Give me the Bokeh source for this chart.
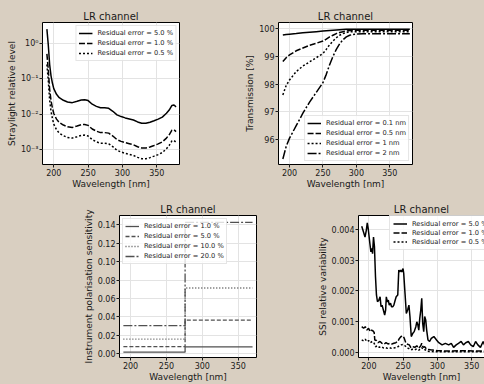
from bokeh.plotting import figure
from bokeh.layouts import column, row
from bokeh.models import (Spacer, Legend, LegendItem, FixedTicker, LinearAxis,
                          GlobalInlineStyleSheet)
from bokeh.embed import file_html
from bokeh.resources import INLINE

# ---------------- data ----------------
x_ticks = [200, 250, 300, 350]

# Top-left: straylight (log scale)
sl_wl = [190, 192, 194, 196, 198, 200, 204, 208, 214, 220, 227, 234, 240, 245, 250,
         256, 262, 268, 274, 280, 286, 292, 298, 304, 310, 316, 322, 328, 334, 340,
         346, 352, 358, 364, 368, 372, 375, 378]
sl_5 = [2.5, 0.9, 0.25, 0.12, 0.075, 0.052, 0.036, 0.029, 0.0245, 0.022, 0.021, 0.023,
        0.025, 0.0255, 0.024, 0.019, 0.0165, 0.015, 0.015, 0.0145, 0.012, 0.0095, 0.0085,
        0.0078, 0.0073, 0.0068, 0.006, 0.0055, 0.0055, 0.0059, 0.0065, 0.0072, 0.0082,
        0.0105, 0.013, 0.0175, 0.018, 0.016]
sl_1 = [0.5, 0.18, 0.05, 0.024, 0.015, 0.0104, 0.0072, 0.0058, 0.0049, 0.0044, 0.0042,
        0.0046, 0.005, 0.0051, 0.0048, 0.0038, 0.0033, 0.003, 0.003, 0.0029, 0.0024,
        0.0019, 0.0017, 0.00156, 0.00146, 0.00136, 0.0012, 0.0011, 0.0011, 0.00118,
        0.0013, 0.00144, 0.00164, 0.0021, 0.0026, 0.0035, 0.0036, 0.0032]
sl_05 = [0.25, 0.09, 0.025, 0.012, 0.0075, 0.0052, 0.0036, 0.0029, 0.00245, 0.0022,
         0.0021, 0.0023, 0.0025, 0.00255, 0.0024, 0.0019, 0.00165, 0.0015, 0.0015,
         0.00145, 0.0012, 0.00095, 0.00085, 0.00078, 0.00073, 0.00068, 0.0006, 0.00055,
         0.00055, 0.00059, 0.00065, 0.00072, 0.00082, 0.00105, 0.0013, 0.00175, 0.0018,
         0.0016]
sl_yticks = [1e-3, 1e-2, 1e-1, 1.0]
sl_ylabels = ["10⁻³", "10⁻²", "10⁻¹", "10⁰"]

# Top-right: transmission
tr_wl = [190, 195, 200, 210, 220, 230, 240, 250, 255, 260, 265, 270, 275, 280, 285,
         290, 295, 300, 310, 320, 340, 360, 380]
tr_01 = [99.77, 99.79, 99.80, 99.82, 99.85, 99.87, 99.89, 99.91, 99.92, 99.93, 99.94,
         99.95, 99.96, 99.97, 99.98, 99.98, 99.98, 99.98, 99.98, 99.98, 99.98, 99.98, 99.98]
tr_05 = [98.81, 98.95, 99.05, 99.20, 99.30, 99.40, 99.47, 99.55, 99.62, 99.70, 99.76,
         99.82, 99.86, 99.89, 99.91, 99.93, 99.94, 99.94, 99.94, 99.94, 99.94, 99.94, 99.94]
tr_1 = [97.61, 97.95, 98.15, 98.45, 98.65, 98.80, 98.95, 99.10, 99.25, 99.42, 99.55,
        99.67, 99.76, 99.82, 99.86, 99.88, 99.89, 99.89, 99.89, 99.89, 99.89, 99.89, 99.89]
tr_2 = [95.30, 95.75, 96.05, 96.50, 96.95, 97.35, 97.70, 98.05, 98.35, 98.70, 99.00,
        99.25, 99.45, 99.60, 99.70, 99.76, 99.79, 99.80, 99.81, 99.81, 99.81, 99.81, 99.81]
tr_yticks = [96, 97, 98, 99, 100]

# Bottom-left: polarisation sensitivity (step)
ps_wl = [190, 276, 370]
ps_1 = [0.0018, 0.0075, 0.0075]
ps_5 = [0.0078, 0.0366, 0.0366]
ps_10 = [0.0160, 0.0714, 0.0714]
ps_20 = [0.0305, 0.1425, 0.1425]
ps_yticks = [0.0, 0.02, 0.04, 0.06, 0.08, 0.10, 0.12, 0.14]
ps_ylabels = ["0.00", "0.02", "0.04", "0.06", "0.08", "0.10", "0.12", "0.14"]

# Bottom-right: SSI relative variability
ssi_wl_5 = [189.5, 192.0, 194.3, 196.2, 197.6, 199.0, 201.4, 202.9, 204.3, 205.3,
            206.7, 208.1, 209.6, 211.0, 212.5, 214.4, 216.3, 217.7, 219.2, 221.1,
            223.0, 224.4, 225.4, 226.8, 228.3, 229.7, 231.6, 233.0, 235.0, 236.4,
            238.3, 239.8, 242.1, 243.6, 245.0, 246.5, 247.9, 249.8, 250.8, 252.7,
            254.6, 256.5, 258.4, 259.9, 261.8, 264.2, 266.1, 268.5, 269.9, 271.4,
            272.8, 274.2, 275.7, 277.1, 278.5, 280.0, 281.4, 282.9, 284.3, 286.2,
            288.6, 291.0, 294.8, 298.7, 302.0, 306.8, 311.6, 316.4, 320.2, 323.6,
            327.4, 330.7, 334.6, 338.0, 341.3, 345.1, 348.5, 352.3, 355.7, 359.0,
            362.8, 366.7, 370.0, 374.0, 378.0]
ssi_5 = [0.00410, 0.00392, 0.00375, 0.00397, 0.00421, 0.00402, 0.00354, 0.00327, 0.00338, 0.00321,
         0.00375, 0.00343, 0.00246, 0.00187, 0.00165, 0.00170, 0.00181, 0.00149, 0.00154, 0.00138,
         0.00122, 0.00138, 0.00181, 0.00165, 0.00170, 0.00154, 0.00160, 0.00149, 0.00149, 0.00154,
         0.00170, 0.00181, 0.00187, 0.00268, 0.00262, 0.00268, 0.00262, 0.00273, 0.00257, 0.00192,
         0.00127, 0.00138, 0.00154, 0.00117, 0.00052, 0.00063, 0.00068, 0.00084, 0.00100, 0.00090,
         0.00073, 0.00111, 0.00138, 0.00176, 0.00095, 0.00068, 0.00117, 0.00106, 0.00073, 0.00041,
         0.00036, 0.00046, 0.00052, 0.00041, 0.00032, 0.00025, 0.00030, 0.00025, 0.00030, 0.00017,
         0.00025, 0.00030, 0.00036, 0.00025, 0.00032, 0.00036, 0.00025, 0.00019, 0.00036, 0.00025,
         0.00017, 0.00036, 0.00019, 0.00028, 0.00022]
ssi_wl_1 = [189.5, 192.3, 194.7, 197.1, 199.5, 201.9, 203.8, 205.7, 207.7, 208.6,
            211.0, 213.4, 216.3, 219.2, 222.0, 224.9, 227.8, 230.7, 233.5, 236.4,
            239.3, 242.1, 244.5, 246.9, 249.8, 251.7, 254.1, 256.5, 258.9, 261.3,
            264.2, 267.0, 269.9, 272.8, 275.7, 277.1, 279.0, 281.4, 284.3, 290.0,
            299.6, 318.8, 337.9, 357.1, 378.0]
ssi_1 = [0.00084, 0.00079, 0.00084, 0.00073, 0.00079, 0.00068, 0.00073, 0.00071, 0.00065, 0.00041,
         0.00039, 0.00032, 0.00036, 0.00030, 0.00027, 0.00032, 0.00028, 0.00030, 0.00028, 0.00030,
         0.00032, 0.00036, 0.00046, 0.00052, 0.00054, 0.00046, 0.00030, 0.00027, 0.00025, 0.00016,
         0.00019, 0.00017, 0.00022, 0.00014, 0.00022, 0.00030, 0.00017, 0.00019, 0.00011, 0.00009,
         0.00006, 0.00005, 0.00006, 0.00005, 0.00006]
ssi_wl_05 = [189.5, 192.3, 194.7, 197.1, 199.5, 201.9, 204.8, 207.7, 209.6, 212.5,
             215.3, 218.2, 221.1, 224.0, 226.8, 229.7, 232.6, 235.4, 238.3, 241.2,
             244.1, 246.9, 249.8, 252.7, 255.6, 258.4, 261.3, 264.2, 267.0, 269.9,
             272.8, 275.7, 277.1, 279.5, 282.4, 285.2, 294.8, 318.8, 350.0, 378.0]
ssi_05 = [0.00041, 0.00038, 0.00043, 0.00036, 0.00039, 0.00032, 0.00036, 0.00030, 0.00019, 0.00022,
          0.00017, 0.00019, 0.00015, 0.00016, 0.00014, 0.00016, 0.00014, 0.00015, 0.00016, 0.00017,
          0.00022, 0.00025, 0.00026, 0.00022, 0.00015, 0.00013, 0.00009, 0.00011, 0.00009, 0.00012,
          0.00008, 0.00012, 0.00016, 0.00009, 0.00009, 0.00004, 0.00003, 0.00003, 0.00003, 0.00003]
ssi_yticks = [0.0, 0.001, 0.002, 0.003, 0.004]
ssi_ylabels = ["0.000", "0.001", "0.002", "0.003", "0.004"]

# ---------------- styling ----------------
BG = "#d9cfc1"
FONT = "DejaVu Sans"
TXT = "#1a1a1a"
GRID = "#e3e3e3"
DASH = "6 2"
DOT = "2 2"
DASHDOT = "9 2 2 2"


def make_fig(width, height, mbl, mbr, mbt, mbb, x_range, y_range, ylabel,
             y_type="linear", outline=True):
    p = figure(width=width, height=height, x_range=x_range, y_range=y_range,
               y_axis_type=y_type, title="LR channel", output_backend="svg",
               toolbar_location=None, min_border_left=mbl, min_border_right=mbr,
               min_border_top=mbt, min_border_bottom=mbb)
    p.title.text_font = FONT
    p.title.text_font_size = "10px"
    p.title.text_font_style = "normal"
    p.title.text_color = TXT
    p.title.align = "center"
    p.title.standoff = 2
    p.border_fill_color = BG
    p.background_fill_color = "white"
    if outline:
        p.outline_line_color = "black"
        p.outline_line_width = 1
        p.outline_line_alpha = 1
    else:
        p.outline_line_color = None
    for ax in p.xaxis + p.yaxis:
        ax.axis_label_text_font = FONT
        ax.axis_label_text_font_size = "9px"
        ax.axis_label_text_font_style = "normal"
        ax.axis_label_text_color = TXT
        ax.major_label_text_font = FONT
        ax.major_label_text_font_size = "8px"
        ax.major_label_text_color = TXT
        ax.major_tick_out = 3
        ax.major_tick_in = 0
        ax.minor_tick_out = 0
        ax.minor_tick_in = 0
        ax.major_tick_line_color = TXT
        ax.major_label_standoff = 1
        ax.axis_label_standoff = 1
        ax.axis_line_color = None if outline else "black"
    p.xaxis.axis_label_standoff = 0
    p.xaxis.axis_label = "Wavelength [nm]"
    p.yaxis.axis_label = ylabel
    p.xaxis.ticker = FixedTicker(ticks=x_ticks)
    p.grid.grid_line_color = GRID
    p.grid.grid_line_width = 1
    return p


def add_legend(p, items, location, row_h=10, pad=2):
    leg = Legend(items=[LegendItem(label=l, renderers=[r]) for l, r in items],
                 location=location)
    leg.label_text_font = FONT
    leg.label_text_font_size = "6.7px"
    leg.label_text_color = TXT
    leg.padding = pad
    leg.spacing = 0
    leg.margin = 3
    leg.label_height = row_h
    leg.glyph_height = row_h
    leg.glyph_width = 14
    leg.label_standoff = 5
    leg.border_line_color = "#cccccc"
    leg.border_line_width = 1
    leg.background_fill_color = "white"
    leg.background_fill_alpha = 0.8
    p.add_layout(leg)
    return leg


# ---- top-left ----  frame x 42..179, y 22..164
tl = make_fig(242, 192, 42, 63, 22, 28, (183.6, 383.0), (3.78e-4, 3.83),
              "Straylight relative level", y_type="log")
tl.yaxis.ticker = FixedTicker(ticks=sl_yticks)
tl.yaxis.major_label_overrides = dict(zip(sl_yticks, sl_ylabels))
r1 = tl.line(sl_wl, sl_5, line_color="black", line_width=1.5)
r2 = tl.line(sl_wl, sl_1, line_color="black", line_width=1.5, line_dash=DASH)
r3 = tl.line(sl_wl, sl_05, line_color="black", line_width=1.5, line_dash=DOT)
add_legend(tl, [("Residual error = 5.0 %", r1), ("Residual error = 1.0 %", r2),
                ("Residual error = 0.5 %", r3)], "top_right")

# ---- top-right ----  frame x 275..412
tr = make_fig(242, 192, 33, 72, 22, 28, (183.5, 384.0), (95.1, 100.22),
              "Transmission [%]")
tr.yaxis.ticker = FixedTicker(ticks=tr_yticks)
q1 = tr.line(tr_wl, tr_01, line_color="black", line_width=1.5)
q2 = tr.line(tr_wl, tr_05, line_color="black", line_width=1.5, line_dash=DASH)
q3 = tr.line(tr_wl, tr_1, line_color="black", line_width=1.5, line_dash=DOT)
q4 = tr.line(tr_wl, tr_2, line_color="black", line_width=1.5, line_dash=DASHDOT)
add_legend(tr, [("Residual error = 0.1 nm", q1), ("Residual error = 0.5 nm", q2),
                ("Residual error = 1 nm", q3), ("Residual error = 2 nm", q4)],
           "bottom_right")

# ---- bottom-left ----  frame x 119..256, y 215..358
bl = make_fig(234, 192, 39, 58, 23, 26, (184.6, 375.5), (-0.004, 0.150),
              "Instrument polarisation sensitivity")
bl.yaxis.ticker = FixedTicker(ticks=ps_yticks)
bl.yaxis.major_label_overrides = dict(zip(ps_yticks, ps_ylabels))
PSC = "#505050"
b1 = bl.step(ps_wl, ps_1, mode="after", line_color=PSC, line_width=1.3)
b2 = bl.step(ps_wl, ps_5, mode="after", line_color=PSC, line_width=1.3, line_dash="4 2")
b3 = bl.step(ps_wl, ps_10, mode="after", line_color=PSC, line_width=1.3, line_dash="1 2")
b4 = bl.step(ps_wl, ps_20, mode="after", line_color=PSC, line_width=1.3, line_dash=DASHDOT)
add_legend(bl, [("Residual error = 1.0 %", b1), ("Residual error = 5.0 %", b2),
                ("Residual error = 10.0 %", b3), ("Residual error = 20.0 %", b4)],
           "top_left")

# ---- bottom-right ----  frame x 356..(cut at window edge), y 215..358
br = make_fig(170, 192, 42, 0, 23, 26, (184.8, 368.7), (-0.00016, 0.00445),
              "SSI relative variability", outline=False)
br.yaxis.ticker = FixedTicker(ticks=ssi_yticks)
br.yaxis.major_label_overrides = dict(zip(ssi_yticks, ssi_ylabels))
top_ax = LinearAxis(ticker=FixedTicker(ticks=[]), axis_line_color="black",
                    major_label_text_font_size="0px", major_tick_out=0, major_tick_in=0,
                    minor_tick_out=0, minor_tick_in=0, major_label_standoff=0,
                    axis_label_standoff=0)
br.add_layout(top_ax, "above")
s1 = br.line(ssi_wl_5, ssi_5, line_color="black", line_width=1.5)
s2 = br.line(ssi_wl_1, ssi_1, line_color="black", line_width=1.5, line_dash=DASH)
s3 = br.line(ssi_wl_05, ssi_05, line_color="black", line_width=1.5, line_dash=DOT)
add_legend(br, [("Residual error = 5.0 %", s1), ("Residual error = 1.0 %", s2),
                ("Residual error = 0.5 %", s3)], (31, 107), row_h=9, pad=3)

layout = column(
    row(tl, tr),
    row(Spacer(width=80, height=192), bl, br),
    stylesheets=[GlobalInlineStyleSheet(css="html, body { background-color: #d9cfc1; }")],
)

open("out.html", "w").write(file_html(layout, INLINE))
